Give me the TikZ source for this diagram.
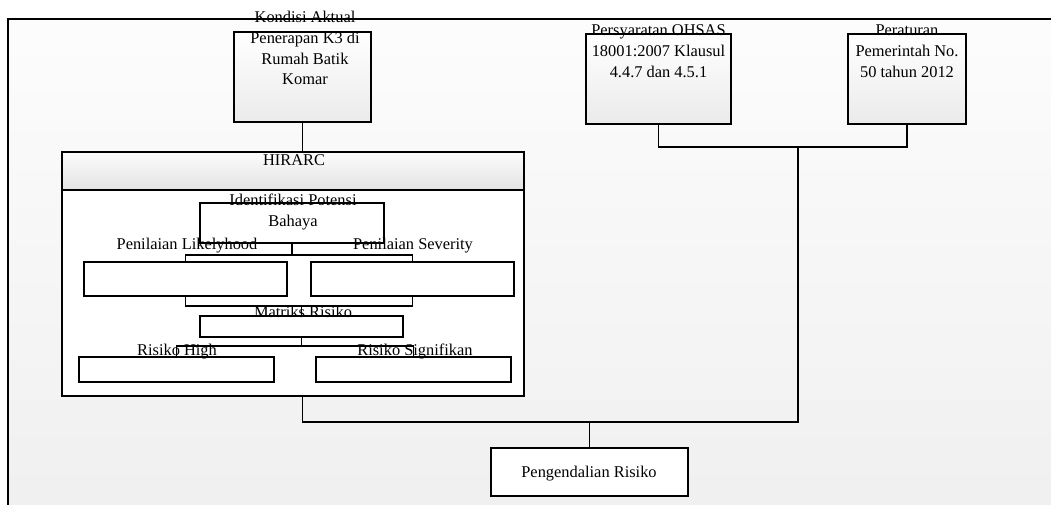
\documentclass[tikz,border=0pt]{standalone}
\usepackage{fontspec}
\setmainfont{Liberation Serif}
\usetikzlibrary{calc}
\newcommand*{\px}{0.75pt}
\tikzset{
    box/.style={draw, line width=1.4pt, fill=white, inner sep=0pt},
    topbox/.style={box, top color=white, bottom color=black!8},
    txt/.style={align=center, inner sep=0pt},
    conn/.style={line width=1.4pt},
}

\begin{document}
\begin{tikzpicture}[x=\px, y=-\px, font=\fontsize{12.3}{15.6}\selectfont]
    \useasboundingbox (0,0) rectangle (1051,505);
    \shade [top color=black!1, bottom color=black!6] (8,19) rectangle (1051,505);
    \draw [line width=1.5pt] (1051,19) -- (8,19) -- (8,505);

    \node [topbox, minimum width=137*\px, minimum height=90*\px] (kondisi)     at (302.5,77) {};
    \node [topbox, minimum width=145*\px, minimum height=90*\px] (persyaratan) at (658.5,79) {};
    \node [topbox, minimum width=118*\px, minimum height=90*\px] (peraturan)   at (907,79)   {};
    \node [box, minimum width=462*\px, minimum height=244*\px] (hirarc) at (293,274) {};
    \node [box, anchor=north, top color=black!1, bottom color=black!11, minimum width=462*\px, minimum height=38*\px] (hirhead) at (hirarc.north) {};
    \node [box, minimum width=184*\px, minimum height=40*\px] (identifikasi) at (292,223)     {};
    \node [box, minimum width=203*\px, minimum height=34*\px] (likelyhood)   at (185.5,279)   {};
    \node [box, minimum width=203*\px, minimum height=34*\px] (severity)     at (412.5,279)   {};
    \node [box, minimum width=203*\px, minimum height=21*\px] (matriks)      at (301.5,326.5) {};
    \node [box, minimum width=195*\px, minimum height=25*\px] (high)         at (176.5,369.5) {};
    \node [box, minimum width=195*\px, minimum height=25*\px] (signifikan)   at (413.5,369.5) {};
    \node [box, minimum width=197*\px, minimum height=48*\px] (pengendalian) at (589.5,472)   {};

    \coordinate (splitA)   at (292,255);
    \coordinate (joinA)    at (301.5,306);
    \coordinate (splitB)   at (301.5,346);
    \coordinate (joinTop)  at (798,147);
    \coordinate (joinBot)  at (798,422);

    \draw [conn] (kondisi.south) -- (kondisi.south |- hirarc.north);
    \draw [conn] (persyaratan.south) |- (joinTop) -| (peraturan.south);
    \draw [conn] (identifikasi.south) -- (splitA);
    \draw [conn] (likelyhood.north) |- (splitA) -| (severity.north);
    \draw [conn] (likelyhood.south) |- (joinA) -| (severity.south);
    \draw [conn] (joinA) -- (matriks.north);
    \draw [conn] (matriks.south) -- (splitB);
    \draw [conn] (high.north) |- (splitB) -| (signifikan.north);
    \draw [conn] (hirarc.south -| kondisi.south) |- (joinBot) -- (joinTop);
    \draw [conn] (pengendalian.north) -- (pengendalian.north |- joinBot);

    \node [txt] (kondisiTxt)      at (305,48)    {Kondisi Aktual\\Penerapan K3 di\\Rumah Batik\\Komar};
    \node [txt] (persyaratanTxt)  at (658.5,51)  {Persyaratan OHSAS\\18001:2007 Klausul\\4.4.7 dan 4.5.1};
    \node [txt] (peraturanTxt)    at (907,51.5)  {Peraturan\\Pemerintah No.\\50 tahun 2012};
    \node [txt] (hirarcTxt)       at (294,160)   {HIRARC};
    \node [txt] (identifikasiTxt) at (293,212)   {Identifikasi Potensi\\Bahaya};
    \node [txt] (likelyhoodTxt)   at (187,246)   {Penilaian Likelyhood};
    \node [txt] (severityTxt)     at (413,246)   {Penilaian Severity};
    \node [txt] (matriksTxt)      at (303,312)   {Matriks Risiko};
    \node [txt] (highTxt)         at (177,352)   {Risiko High};
    \node [txt] (signifikanTxt)   at (415,352)   {Risiko Signifikan};
    \node [txt] (pengendalianTxt) at (589,474)   {Pengendalian Risiko};
    %\draw [red] (0,0) grid [step=50] (1051,505);
\end{tikzpicture}
\end{document}
